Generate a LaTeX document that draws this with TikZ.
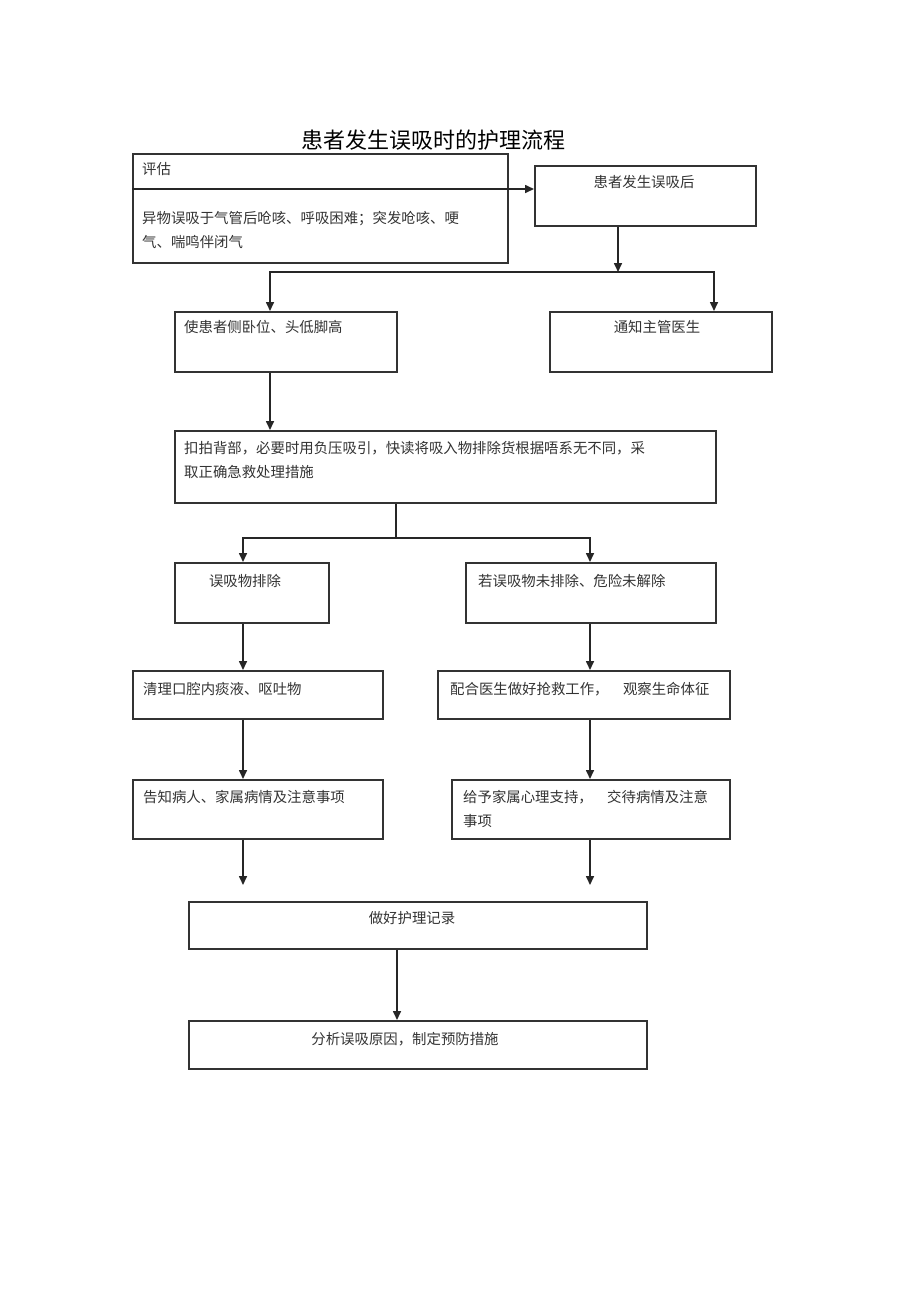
\documentclass[tikz,border=0pt]{standalone}
\usepackage{fontspec}
\setmainfont{Noto Sans CJK SC}
\usetikzlibrary{arrows.meta,calc}
\begin{document}
\begin{tikzpicture}[x=1pt,y=-1pt,
  box/.style={draw=black!80, line width=1.6pt, rectangle, inner sep=0pt, anchor=north west},
  txt/.style={inner sep=0pt, font=\fontsize{14.4}{24}\selectfont, text=black!80, align=left},
  arr/.style={draw=black!85, line width=1.6pt, -{Triangle[length=9pt,width=8pt]}},
  ln/.style={draw=black!85, line width=1.6pt}]
\useasboundingbox (0,0) rectangle (920,1303);
\fill[white] (0,0) rectangle (920,1303);

\node[inner sep=0pt, font=\fontsize{22}{26}\selectfont] (title) at (433,140) {患者发生误吸时的护理流程};

% boxes
\node[box, minimum width=375pt, minimum height=109pt] (b1) at (132,153) {};
\node[box, minimum width=221pt, minimum height=60pt] (b2) at (534,165) {};
\node[box, minimum width=222pt, minimum height=60pt] (b3) at (174,311) {};
\node[box, minimum width=222pt, minimum height=60pt] (b4) at (549,311) {};
\node[box, minimum width=541pt, minimum height=72pt] (b5) at (174,430) {};
\node[box, minimum width=154pt, minimum height=60pt] (b6) at (174,562) {};
\node[box, minimum width=250pt, minimum height=60pt] (b7) at (465,562) {};
\node[box, minimum width=250pt, minimum height=48pt] (b8) at (132,670) {};
\node[box, minimum width=292pt, minimum height=48pt] (b9) at (437,670) {};
\node[box, minimum width=250pt, minimum height=59pt] (b10) at (132,779) {};
\node[box, minimum width=278pt, minimum height=59pt] (b11) at (451,779) {};
\node[box, minimum width=458pt, minimum height=47pt] (b12) at (188,901) {};
\node[box, minimum width=458pt, minimum height=48pt] (b13) at (188,1020) {};

% texts
\node[txt, anchor=west] (t1) at (142,169) {评估};
\node[txt, anchor=north west] (t1b) at (142,211) {异物误吸于气管后呛咳、呼吸困难；突发呛咳、哽\\气、喘鸣伴闭气};
\node[txt] (t2) at (644,182) {患者发生误吸后};
\node[txt, anchor=west] (t3) at (184,327) {使患者侧卧位、头低脚高};
\node[txt] (t4) at (657,327) {通知主管医生};
\node[txt, anchor=north west] (t5) at (184,441) {扣拍背部，必要时用负压吸引，快读将吸入物排除货根据唔系无不同，采\\取正确急救处理措施};
\node[txt] (t6) at (245,581) {误吸物排除};
\node[txt, anchor=west] (t7) at (478,581) {若误吸物未排除、危险未解除};
\node[txt, anchor=west] (t8) at (143,689) {清理口腔内痰液、呕吐物};
\node[txt, anchor=west] (t9) at (450,689) {配合医生做好抢救工作，\hspace{1em}观察生命体征};
\node[txt, anchor=west] (t10) at (143,797) {告知病人、家属病情及注意事项};
\node[txt, anchor=north west] (t11) at (463,790) {给予家属心理支持，\hspace{1em}交待病情及注意\\事项};
\node[txt] (t12) at (412,918) {做好护理记录};
\node[txt] (t13) at (405,1039) {分析误吸原因，制定预防措施};

% helper coordinates
\coordinate (d1) at ($(b1.north west)+(0,36)$);
\coordinate (j1) at (618,272);
\coordinate (c3) at (270,0);
\coordinate (c4) at (714,0);
\coordinate (j2) at (396,538);
\coordinate (c6) at (243,0);
\coordinate (c7) at (590,0);
\coordinate (e1) at (243,885);
\coordinate (e2) at (590,885);
\coordinate (c12) at (397,0);

% connectors
\draw[arr] (d1) -- (d1 -| b2.west);
\draw[arr] (j1 |- b2.south) -- (j1);
\draw[arr] (j1) -| (b3.north -| c3);
\draw[arr] (j1) -| (b4.north -| c4);
\draw[arr] (b3.south -| c3) -- (b5.north -| c3);
\draw[ln] (b5.south -| j2) -- (j2);
\draw[arr] (j2) -| (b6.north -| c6);
\draw[arr] (j2) -| (b7.north -| c7);
\draw[arr] (b6.south -| c6) -- (b8.north -| c6);
\draw[arr] (b7.south -| c7) -- (b9.north -| c7);
\draw[arr] (b8.south -| c6) -- (b10.north -| c6);
\draw[arr] (b9.south -| c7) -- (b11.north -| c7);
\draw[arr] (b10.south -| e1) -- (e1);
\draw[arr] (b11.south -| e2) -- (e2);
\draw[arr] (b12.south -| c12) -- (b13.north -| c12);
\end{tikzpicture}
\end{document}
